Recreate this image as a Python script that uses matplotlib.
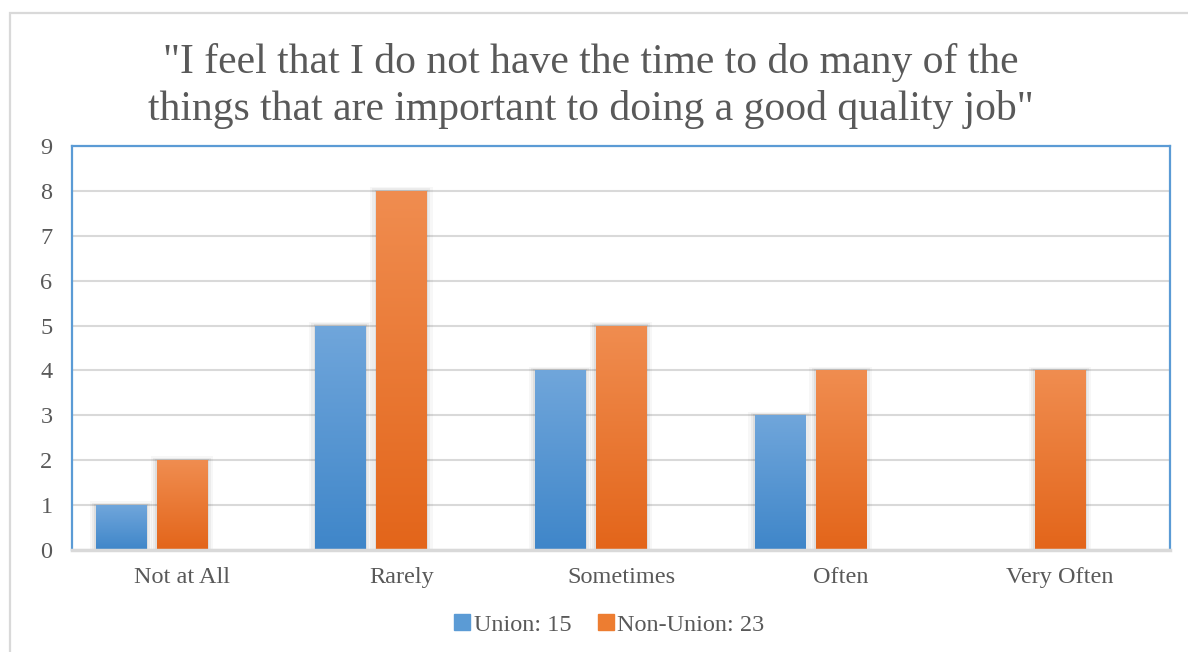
import numpy as np
import matplotlib.pyplot as plt
from matplotlib.colors import LinearSegmentedColormap
from matplotlib.patches import Rectangle

plt.rcParams['font.family'] = ['Liberation Serif', 'DejaVu Serif']

categories = ["Not at All", "Rarely", "Sometimes", "Often", "Very Often"]
union = [1, 5, 4, 3, 0]
non_union = [2, 8, 5, 4, 4]
series_labels = ["Union: 15", "Non-Union: 23"]
title = ('"I feel that I do not have the time to do many of the\n'
         'things that are important to doing a good quality job"')

TEXT = "#595959"
GRID = "#D9D9D9"
FRAME = "#5B9BD5"

fig = plt.figure(figsize=(11.88, 6.52), dpi=100)
W, H = 1188, 652
ax = fig.add_axes([72 / W, (H - 550) / H, 1098 / W, 404 / H])

# outer chart border
fig.patches.append(Rectangle((10 / W, -0.05), 1.2, (H - 13) / H + 0.05,
                             transform=fig.transFigure, fill=False,
                             edgecolor=GRID, lw=1.6, zorder=0))

x = np.arange(len(categories))
width = 0.228
slot = 0.278

grad_blue = LinearSegmentedColormap.from_list("b", ["#3F86C9", "#70A6DB"])
grad_orange = LinearSegmentedColormap.from_list("o", ["#E3651A", "#F08D50"])
grad = np.linspace(0, 1, 256).reshape(-1, 1)


def gradient_bars(xs, vals, cmap, color):
    bars = ax.bar(xs, vals, width, color=color, zorder=3, linewidth=0)
    for b in bars:
        if b.get_height() <= 0:
            continue
        x0, w, h = b.get_x(), b.get_width(), b.get_height()
        # soft shadow around the bar
        for k, a in [(0.028, 0.03), (0.018, 0.045), (0.008, 0.06)]:
            ax.add_patch(Rectangle((x0 - k, -0.02), w + 2 * k, h + 0.02 + k * 3,
                                   facecolor="#000000", alpha=a, lw=0,
                                   zorder=2))
        im = ax.imshow(grad, cmap=cmap, origin="lower", aspect="auto",
                       extent=(x0, x0 + w, 0, h), zorder=4)
        im.set_clip_path(b)
    return bars


gradient_bars(x - slot, union, grad_blue, "#5B9BD5")
gradient_bars(x, non_union, grad_orange, "#ED7D31")

ax.set_xlim(-0.5, len(categories) - 0.5)
ax.set_ylim(0, 9)
ax.set_yticks(range(10))
ax.set_xticks(x)
ax.set_xticklabels(categories)
ax.tick_params(axis="both", length=0, labelsize=17.5, labelcolor=TEXT)
ax.tick_params(axis="y", pad=14)
ax.tick_params(axis="x", pad=12)
ax.yaxis.grid(True, color=GRID, lw=1.5, zorder=0)
ax.set_axisbelow(True)

for side in ["left", "top", "right"]:
    ax.spines[side].set_color(FRAME)
    ax.spines[side].set_linewidth(1.6)
ax.spines["bottom"].set_color(GRID)
ax.spines["bottom"].set_linewidth(2.5)
ax.spines["bottom"].set_zorder(5)

fig.text(0.497, (H - 86) / H, title, ha="center", va="center",
         fontsize=30, color=TEXT, linespacing=1.25)

handles = [Rectangle((0, 0), 1, 1, color="#5B9BD5"),
           Rectangle((0, 0), 1, 1, color="#ED7D31")]
fig.legend(handles, series_labels, loc="center", ncol=2,
           bbox_to_anchor=(0.513, (H - 625) / H), frameon=False,
           fontsize=17.5, labelcolor=TEXT, handlelength=0.65,
           handleheight=0.65, handletextpad=0.15, columnspacing=1.1)

fig.savefig("out.png", dpi=100, facecolor="white")
